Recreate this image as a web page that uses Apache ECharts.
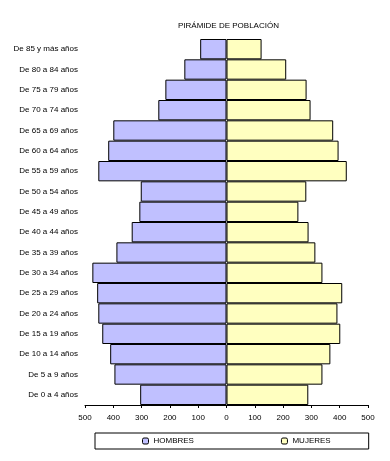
<!DOCTYPE html>
<html><head><meta charset="utf-8">
<script src="https://cdn.jsdelivr.net/npm/echarts@6/dist/echarts.min.js"></script>
<style>html,body{margin:0;padding:0;background:#fff}#c{width:390px;height:461px}</style>
</head><body><div id="c"></div>
<script>
const categories = ["De 0 a 4 años","De 5 a 9 años","De 10 a 14 años","De 15 a 19 años","De 20 a 24 años","De 25 a 29 años","De 30 a 34 años","De 35 a 39 años","De 40 a 44 años","De 45 a 49 años","De 50 a 54 años","De 55 a 59 años","De 60 a 64 años","De 65 a 69 años","De 70 a 74 años","De 75 a 79 años","De 80 a 84 años","De 85 y más años"];
const hombres = [305,396,411,439,453,457,474,389,335,308,303,453,418,400,241,216,149,93];
const mujeres = [289,339,367,402,392,409,339,314,290,254,282,425,396,377,297,283,211,124];
const xTicks = {min:-500, max:500, interval:100};
const FONT = "'Liberation Sans', Arial, sans-serif";
const chart = echarts.init(document.getElementById('c'));
chart.setOption({
  animation:false,
  backgroundColor:'#fff',
  title:{text:'PIRÁMIDE DE POBLACIÓN', left:178, top:22, padding:0,
    textStyle:{fontFamily:FONT,fontSize:8,fontWeight:'normal',color:'#000'}},
  legend:{left:95, top:433, padding:[4,38,4,47], itemGap:87, itemWidth:6, itemHeight:6,
    borderColor:'#000', borderWidth:1, borderRadius:0,
    data:['HOMBRES','MUJERES'],
    textStyle:{fontFamily:FONT,fontSize:8,color:'#000'},
    itemStyle:{borderColor:'#000',borderWidth:1}},
  grid:{left:85,right:22,top:39,bottom:56,containLabel:false},
  xAxis:{type:'value',min:xTicks.min,max:xTicks.max,interval:xTicks.interval,
    axisLine:{show:true,lineStyle:{color:'#000',width:1}},
    axisTick:{show:true,length:3,lineStyle:{color:'#000'}},
    splitLine:{show:false},
    axisLabel:{color:'#000',fontFamily:FONT,fontSize:8,margin:9,formatter:v=>Math.abs(v)}},
  yAxis:{type:'category',data:categories,
    axisLine:{show:false},axisTick:{show:false},
    axisLabel:{color:'#000',fontFamily:FONT,fontSize:8,margin:7}},
  series:[
    {name:'HOMBRES',type:'bar',stack:'p',barCategoryGap:0,data:hombres.map(v=>-v),
      itemStyle:{color:'#C0C0FF',borderColor:'#000',borderWidth:1}},
    {name:'MUJERES',type:'bar',stack:'p',barCategoryGap:0,data:mujeres,
      itemStyle:{color:'#FFFFC0',borderColor:'#000',borderWidth:1}}
  ]
});
</script></body></html>
